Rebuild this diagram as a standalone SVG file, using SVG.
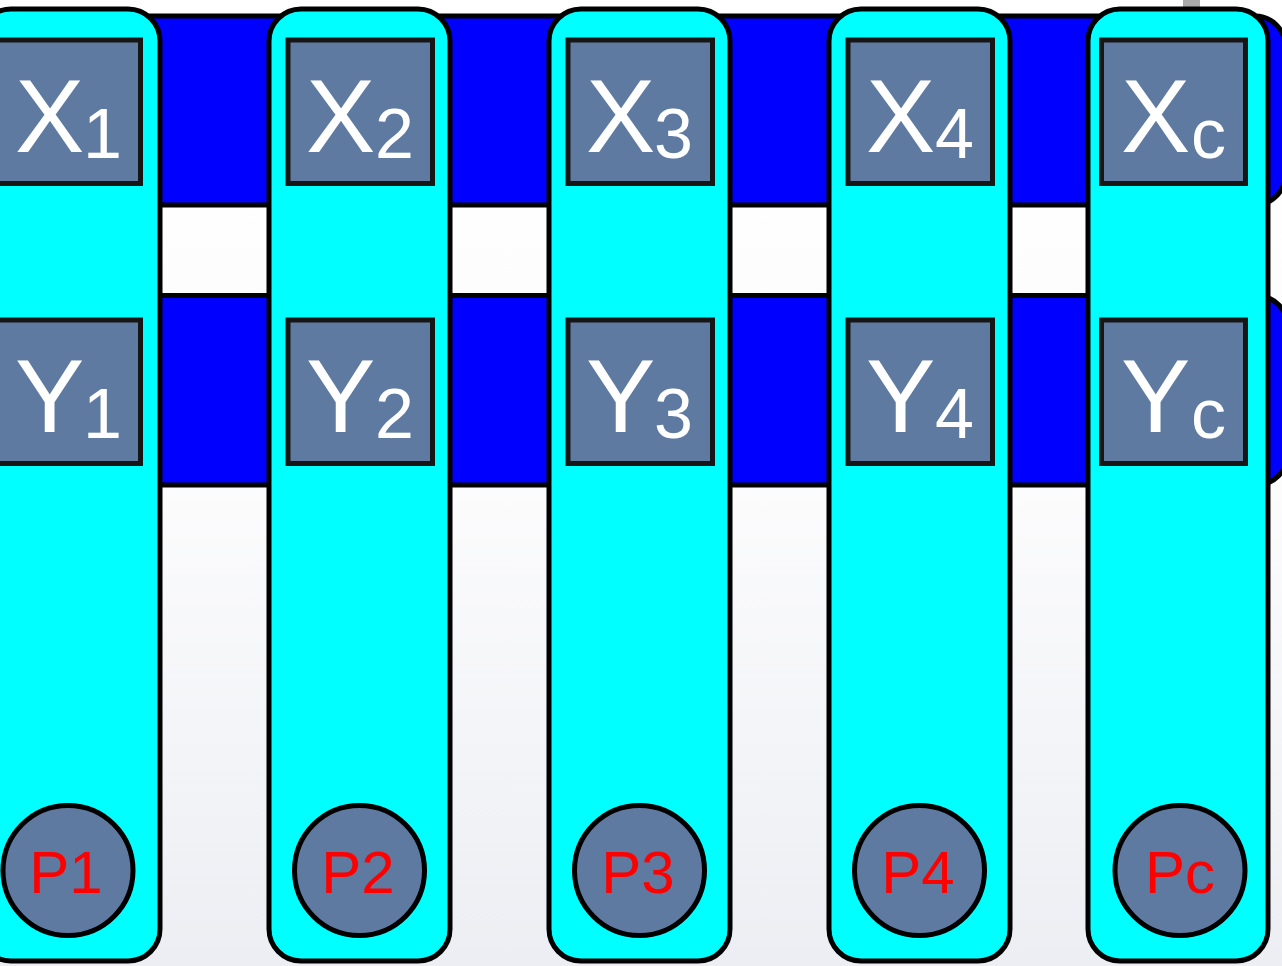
<svg xmlns="http://www.w3.org/2000/svg" width="1282" height="966" viewBox="0 0 1282 966">
<style>
.bar{fill:#0000ff;stroke:#000;stroke-width:5}
.col{fill:#00ffff;stroke:#000;stroke-width:5}
.sq{fill:#5e7aa1;stroke:#161616;stroke-width:5}
.pc{fill:#5e7aa1;stroke:#000;stroke-width:5}
.big{font-family:"Liberation Sans",Arial,sans-serif;fill:#fff;font-size:104px}
.sub{font-family:"Liberation Sans",Arial,sans-serif;fill:#fff;font-size:70px}
.pt{font-family:"Liberation Sans",Arial,sans-serif;fill:#ff0000;font-size:60px;text-anchor:middle}
</style>
<defs>
<linearGradient id="bg" x1="0" y1="0" x2="0" y2="966" gradientUnits="userSpaceOnUse">
<stop offset="0" stop-color="#ffffff"/>
<stop offset="0.5" stop-color="#fcfcfd"/>
<stop offset="1" stop-color="#eceef3"/>
</linearGradient>
</defs>
<rect x="0" y="0" width="1282" height="966" fill="url(#bg)"/>
<g id="buses">
<rect class="bar" x="-30" y="16" width="1315" height="189" rx="30"/>
<rect class="bar" x="-30" y="295.5" width="1318" height="189.5" rx="32"/>
<rect x="1183" y="0" width="17" height="12" fill="#a9a9a9"/>
</g>
<g id="col1">
<rect class="col" x="-21" y="9" width="181" height="952" rx="32"/>
<rect class="sq" x="-4" y="40" width="144.5" height="143.5"/>
<text class="big" x="15" y="152">X</text><text class="sub" x="83" y="158">1</text>
<rect class="sq" x="-4" y="320" width="144.5" height="143.5"/>
<text class="big" x="15" y="432">Y</text><text class="sub" x="83" y="438">1</text>
<circle class="pc" cx="68" cy="870.5" r="65"/>
<text class="pt" x="66" y="893">P1</text>
</g>
<g id="col2">
<rect class="col" x="269" y="9" width="181" height="952" rx="32"/>
<rect class="sq" x="288" y="40" width="144.5" height="143.5"/>
<text class="big" x="306" y="152">X</text><text class="sub" x="375" y="158">2</text>
<rect class="sq" x="288" y="320" width="144.5" height="143.5"/>
<text class="big" x="306" y="432">Y</text><text class="sub" x="375" y="438">2</text>
<circle class="pc" cx="359.5" cy="870.5" r="65"/>
<text class="pt" x="358" y="893">P2</text>
</g>
<g id="col3">
<rect class="col" x="549" y="9" width="181" height="952" rx="32"/>
<rect class="sq" x="568" y="40" width="144.5" height="143.5"/>
<text class="big" x="586" y="152">X</text><text class="sub" x="654" y="158">3</text>
<rect class="sq" x="568" y="320" width="144.5" height="143.5"/>
<text class="big" x="586" y="432">Y</text><text class="sub" x="654" y="438">3</text>
<circle class="pc" cx="639.5" cy="870.5" r="65"/>
<text class="pt" x="638" y="893">P3</text>
</g>
<g id="col4">
<rect class="col" x="829" y="9" width="181" height="952" rx="32"/>
<rect class="sq" x="848" y="40" width="144.5" height="143.5"/>
<text class="big" x="866" y="152">X</text><text class="sub" x="935" y="158">4</text>
<rect class="sq" x="848" y="320" width="144.5" height="143.5"/>
<text class="big" x="866" y="432">Y</text><text class="sub" x="935" y="438">4</text>
<circle class="pc" cx="919.5" cy="870.5" r="65"/>
<text class="pt" x="918" y="893">P4</text>
</g>
<g id="colc">
<rect class="col" x="1088" y="9" width="180" height="952" rx="32"/>
<rect class="sq" x="1101.5" y="40" width="144" height="143.5"/>
<text class="big" x="1121" y="152">X</text><text class="sub" x="1191" y="158" font-size="72">c</text>
<rect class="sq" x="1101.5" y="320" width="144" height="143.5"/>
<text class="big" x="1121" y="432">Y</text><text class="sub" x="1191" y="438" font-size="72">c</text>
<circle class="pc" cx="1180" cy="870.5" r="65"/>
<text class="pt" x="1180" y="893">Pc</text>
</g>
</svg>
